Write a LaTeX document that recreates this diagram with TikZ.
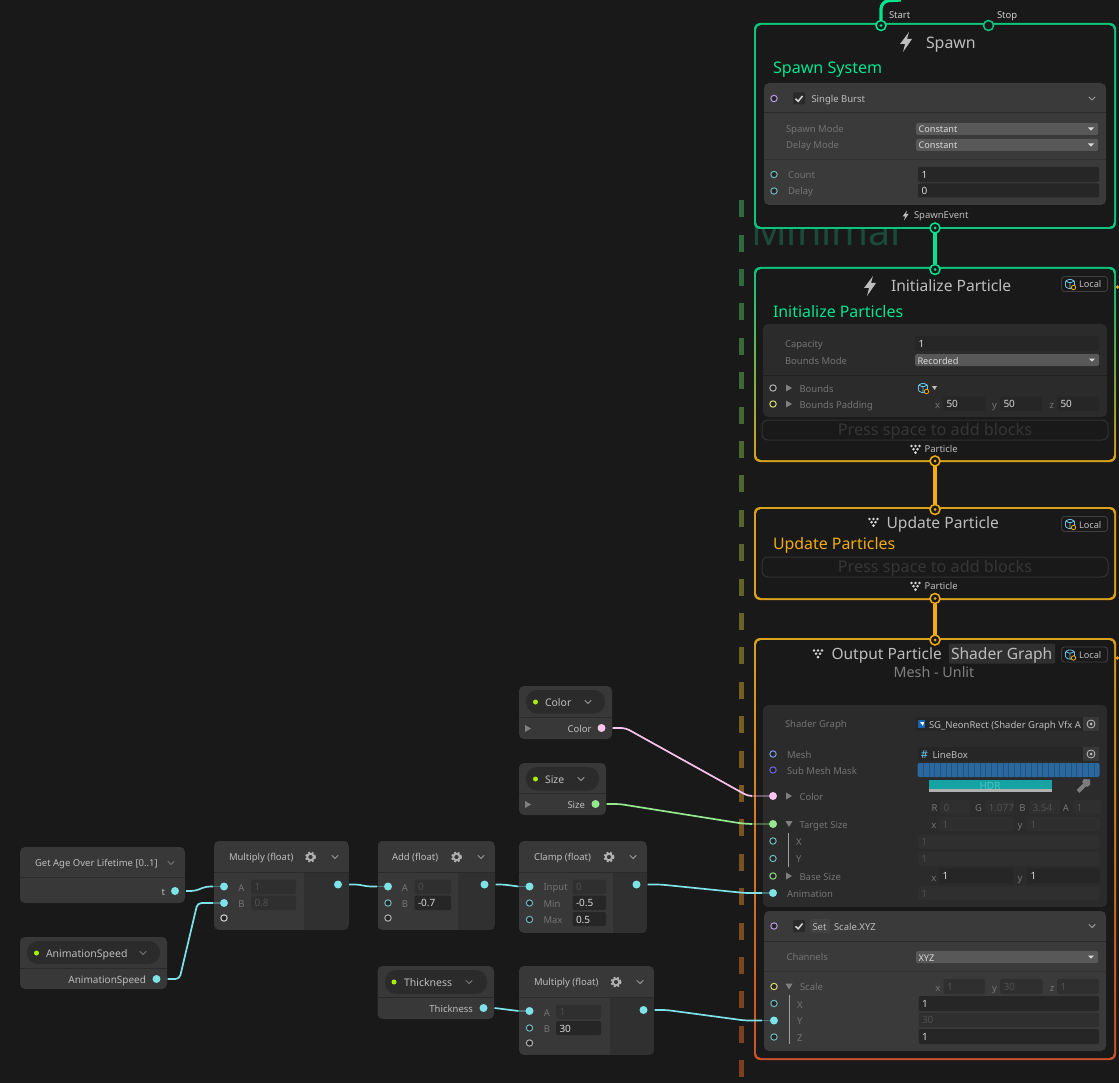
\documentclass[tikz,border=0pt]{standalone}
\usepackage{fontspec}
\setmainfont{Noto Sans}
\usetikzlibrary{calc}
\definecolor{bgc}{HTML}{191919}
\definecolor{nodec}{HTML}{383838}
\definecolor{colc}{HTML}{303030}
\definecolor{linec}{HTML}{2A2A2A}
\definecolor{blockA}{HTML}{3A3A3A}
\definecolor{blockB}{HTML}{2B2B2B}
\definecolor{dimtxt}{HTML}{747474}
\definecolor{meshtxt}{HTML}{808080}
\definecolor{txt}{HTML}{BDBDBD}
\definecolor{val}{HTML}{D8D8D8}
\definecolor{fieldon}{HTML}{262626}
\definecolor{fieldoff}{HTML}{2F2F2F}
\definecolor{offtxt}{HTML}{505050}
\definecolor{dd}{HTML}{585858}
\definecolor{pill}{HTML}{2B2B2B}
\definecolor{pressline}{HTML}{323232}
\definecolor{presstxt}{HTML}{363636}
\definecolor{badge}{HTML}{3E3E3E}
\definecolor{btn}{HTML}{383838}
\definecolor{tri}{HTML}{808080}
\definecolor{chevc}{HTML}{9A9A9A}
\definecolor{teal}{HTML}{7DE3E8}
\definecolor{tealdim}{HTML}{6FB8BC}
\definecolor{pinkw}{HTML}{F9C4EE}
\definecolor{greenw}{HTML}{96E88F}
\definecolor{flowg}{HTML}{0DC57E}
\definecolor{flowgb}{HTML}{00E58E}
\definecolor{flowy}{HTML}{D9A11C}
\definecolor{flowyb}{HTML}{F2AC0E}
\definecolor{flowr}{HTML}{C8522A}
\definecolor{dash1}{HTML}{2D6B3C}
\definecolor{dash2}{HTML}{756020}
\definecolor{dash3}{HTML}{7C3E1F}
\definecolor{purp}{HTML}{B79BE0}
\definecolor{bluep}{HTML}{7C9BE8}
\definecolor{indp}{HTML}{6F63E0}
\definecolor{yelp}{HTML}{D8DC78}
\definecolor{grayp}{HTML}{B0B0B0}
\definecolor{greenp}{HTML}{8FD68A}
\definecolor{lime}{HTML}{A8F000}
\definecolor{minimal}{HTML}{1B4A3A}
\definecolor{maskc}{HTML}{2A689F}
\definecolor{hdrc}{HTML}{16A3A3}
\definecolor{pick}{HTML}{7C7C7C}
\definecolor{cubec}{HTML}{6CC4EE}
\definecolor{sgblue}{HTML}{1464B4}
\newcounter{labc}
\tikzset{
  x=1pt,y=-1pt,
  every node/.style={inner sep=0pt,outer sep=0pt},
  lbl/.style={text height=0.8em,text depth=0em},
  portopen/.style={circle,minimum size=6.4pt,draw=#1,line width=1pt,fill=bgc!60!nodec},
  portfull/.style={circle,minimum size=8pt,fill=#1},
  flowport/.style={circle,minimum size=10pt,draw=#1,line width=1.5pt,fill=bgc},
  flowdot/.style={circle,minimum size=3pt,fill=#1},
  wire/.style={draw=#1,line width=1.7pt,rounded corners=4pt},
  wiredim/.style={draw=#1,line width=1.7pt,draw opacity=0.36},
  flowline/.style={draw=#1,line width=3.2pt,rounded corners=8pt},
  nodepanel/.style={rounded corners=5pt,fill=nodec},
  chev/.style={draw=#1,line width=0.9pt},
  rule/.style={draw=linec,line width=1pt}
}
% label: [anchor]{x}{y}{colour}{size}{text}
\newcommand{\lab}[6][west]{\stepcounter{labc}\node[lbl,anchor=#1,text=#4,font=\fontsize{#5}{#5}\selectfont] (lab\arabic{labc}) at ({#2},{#3}) {#6};}
\newcommand{\chevron}[3]{\draw[chev=#3] (#1-3.2,#2-1.6) -- (#1,#2+1.6) -- (#1+3.2,#2-1.6);}
\newcommand{\fon}[5]{\fill[fieldon,rounded corners=2pt] (#1,#2) rectangle (#3,#4);\lab{#1+3.5}{(#2+#4)/2}{val}{10}{#5}}
\newcommand{\foff}[5]{\fill[fieldoff,rounded corners=2pt] (#1,#2) rectangle (#3,#4);\lab{#1+3.5}{(#2+#4)/2}{offtxt}{10}{#5}}
\newcommand{\ddown}[5]{\fill[dd,rounded corners=1.5pt] (#1,#2) rectangle (#3,#4);\lab{#1+2.5}{(#2+#4)/2}{val}{9.2}{#5}\fill[val] (#3-10,{(#2+#4)/2-1.5}) -- (#3-4,{(#2+#4)/2-1.5}) -- (#3-7,{(#2+#4)/2+1.7}) -- cycle;}
\newcommand{\tright}[2]{\fill[tri] (#1-3,#2-3.5) -- (#1+3,#2) -- (#1-3,#2+3.5) -- cycle;}
\newcommand{\tdown}[2]{\fill[tri] (#1-3.5,#2-3) -- (#1+3.5,#2-3) -- (#1,#2+3) -- cycle;}
\newcommand{\gear}[2]{\draw[grayp,line width=1.8pt] (#1,#2) circle (3.2);\draw[grayp,line width=1.8pt,dash pattern=on 2pt off 1.8pt] (#1,#2) circle (4.7);}
\newcommand{\bolt}[3]{\begin{scope}[shift={(#1,#2)},scale=#3]\fill[txt] (3,-10) -- (-6,2) -- (-1,2) -- (-3,10) -- (6,-3) -- (1,-3) -- cycle;\end{scope}}
\newcommand{\partic}[3]{\begin{scope}[shift={(#1,#2)},scale=#3]\foreach \a/\b in {-4/-3,0/-3,4/-3,-2/0.2,2/0.2,0/3.6}{\fill[val] (\a,\b) circle (1.45);}\end{scope}}
\newcommand{\cube}[2]{\draw[cubec,line width=0.8pt,rounded corners=1pt] (#1-4.5,#2-3) -- (#1,#2-5) -- (#1+4.5,#2-3) -- (#1+4.5,#2+3) -- (#1,#2+5) -- (#1-4.5,#2+3) -- cycle (#1-4.5,#2-3) -- (#1,#2-1) -- (#1+4.5,#2-3) (#1,#2-1) -- (#1,#2+5);\draw[flowyb,fill=bgc,line width=0.8pt] (#1+3.5,#2+3.5) circle (2.2);}
\newcommand{\localbadge}[1]{\draw[draw=badge,line width=0.9pt,rounded corners=3pt] (1061.5,#1-7.5) rectangle (1107.5,#1+7.5);\cube{1070}{#1}\lab{1079}{#1}{txt}{9.2}{Local}}
\newcommand{\checkb}[2]{\fill[linec,rounded corners=1pt] (#1-6,#2-6) rectangle (#1+6,#2+6);\draw[val,line width=1.5pt] (#1-3.5,#2+0.3) -- (#1-0.8,#2+2.8) -- (#1+3.5,#2-2.5);}
\newcommand{\presspace}[1]{\draw[draw=pressline,line width=1pt,rounded corners=6pt] (762,#1-10) rectangle (1108,#1+10);\lab[center]{935}{#1+1.5}{presstxt}{16.2}{Press space to add blocks}}
\newcommand{\targetbtn}[2]{\fill[btn] (#1-8,#2-7) rectangle (#1+8,#2+7);\draw[txt,line width=0.8pt] (#1,#2) circle (4);\fill[txt] (#1,#2) circle (1.5);}
\begin{document}
\begin{tikzpicture}
\useasboundingbox (0,0) rectangle (1119,1083);
\fill[bgc] (0,0) rectangle (1119,1083);

% system outline and title
\foreach \k in {-2,...,23}{
  \pgfmathsetmacro\yy{269+34.4*\k}
  \pgfmathtruncatemacro\pa{max(0,min(100,100-(\yy-269)/4.31))}
  \pgfmathtruncatemacro\pb{max(0,min(100,100-(\yy-700)/3.6))}
  \ifdim\yy pt<700pt \colorlet{dcol}{dash1!\pa!dash2}\else\colorlet{dcol}{dash2!\pb!dash3}\fi
  \fill[dcol] (739,\yy) rectangle (743.5,\yy+17);
}
\lab[base west]{751}{245.5}{minimal}{39.5}{Minimal}

% ---------- flow contexts
\shade[top color=flowg,bottom color=flowg,rounded corners=6pt] (754,23) rectangle (1116,229);
\fill[bgc,rounded corners=5pt] (756,25) rectangle (1114,227);
\shade[top color=flowg,bottom color=flowy,rounded corners=6pt] (754,267) rectangle (1116,462);
\fill[bgc,rounded corners=5pt] (756,269) rectangle (1114,460);
\shade[top color=flowy,bottom color=flowy,rounded corners=6pt] (754,507) rectangle (1116,600);
\fill[bgc,rounded corners=5pt] (756,509) rectangle (1114,598);
\shade[top color=flowy,bottom color=flowr,rounded corners=6pt] (754,638) rectangle (1116,1060);
\fill[bgc,rounded corners=5pt] (756,640) rectangle (1114,1058);

% Spawn
\bolt{906}{42}{1}
\lab{926}{44.5}{txt}{15.9}{Spawn}
\lab{773}{70}{flowgb}{16.1}{Spawn System}
\lab{889}{14.5}{txt!75}{9.5}{Start}
\lab{997}{14.5}{txt!75}{9.5}{Stop}
\fill[blockA,rounded corners=5pt] (764,83) rectangle (1106,205);
\draw[rule] (764,113) -- (1106,113);
\draw[rule,draw=linec!60!blockA] (764,159.5) -- (1106,159.5);
\checkb{799}{98.5}
\lab{811.5}{98.5}{txt}{9.5}{Single Burst}
\chevron{1092}{98.5}{chevc}
\lab{786}{129}{dimtxt}{9.5}{Spawn Mode}
\lab{786}{144.5}{dimtxt}{9.5}{Delay Mode}
\ddown{916}{123}{1098}{135}{Constant}
\ddown{916}{139}{1098}{151}{Constant}
\lab{788}{174.5}{dimtxt}{9.5}{Count}
\lab{788}{191}{dimtxt}{9.5}{Delay}
\fon{918}{167}{1099}{182}{1}
\fon{918}{183.5}{1099}{197.5}{0}
\bolt{905.5}{215.5}{0.5}
\lab{914}{215}{txt}{9.5}{SpawnEvent}

% Initialize
\bolt{870}{286}{1}
\lab{891}{288}{txt}{15.6}{Initialize Particle}
\localbadge{284}
\lab{773}{314}{flowgb}{15.9}{Initialize Particles}
\fill[blockB,rounded corners=5pt] (763,324) rectangle (1107,417);
\draw[rule,draw=blockB!75!black] (763,375.5) -- (1107,375.5);
\lab{785}{343}{dimtxt}{9.5}{Capacity}
\lab{785}{360}{dimtxt}{9.5}{Bounds Mode}
\fon{915}{336}{1099}{351}{1}
\ddown{915}{354}{1099}{366}{Recorded}
\tright{789}{388}
\tright{789}{404}
\lab{799.5}{388}{dimtxt}{9.5}{Bounds}
\lab{799.5}{404}{dimtxt}{9.5}{Bounds Padding}
\cube{923}{388}
\fill[txt] (932,386) -- (937,386) -- (934.5,390) -- cycle;
\lab{935}{404.5}{dimtxt}{9.5}{x}
\fon{943}{396.5}{985}{411}{50}
\lab{992}{404.5}{dimtxt}{9.5}{y}
\fon{1000}{396.5}{1042}{411}{50}
\lab{1049.5}{404.5}{dimtxt}{9.5}{z}
\fon{1057}{396.5}{1099}{411}{50}
\presspace{430}
\partic{915.5}{449}{1}
\lab{924.5}{448}{txt}{9.5}{Particle}

% Update
\partic{873.5}{522}{1}
\lab{886.5}{524}{txt}{15.6}{Update Particle}
\localbadge{524}
\lab{773}{545}{flowyb}{15.9}{Update Particles}
\presspace{567}
\partic{915.5}{586}{1}
\lab{924.5}{585}{txt}{9.5}{Particle}

% Output
\partic{818}{653.5}{1}
\lab{831.5}{655.5}{txt}{15.5}{Output Particle}
\fill[fieldoff,rounded corners=1pt] (949,643.5) rectangle (1055,663.5);
\lab{951}{655.5}{txt}{15.6}{Shader Graph}
\localbadge{654.5}
\lab[center]{934}{673.5}{meshtxt}{14.3}{Mesh - Unlit}

\fill[blockB,rounded corners=5pt] (763,705) rectangle (1107,907);
\lab{785}{723.5}{dimtxt}{9.5}{Shader Graph}
\fill[fieldon,rounded corners=2pt] (916,717) rectangle (1099,731);
\fill[sgblue] (918,720) rectangle (925,728);
\fill[white] (920,722) -- (924,722) -- (923,726) -- cycle;
\lab{929}{724}{txt}{9.5}{SG\_NeonRect (Shader Graph Vfx A}
\targetbtn{1091}{724}
\lab{787}{754}{dimtxt}{9.5}{Mesh}
\fill[fieldon,rounded corners=2pt] (918,747) rectangle (1099,761);
\lab[center]{924.5}{754}{cubec}{11}{\#}
\lab{932.5}{754}{txt}{9.5}{LineBox}
\targetbtn{1091}{754}
\lab{787}{770}{dimtxt}{9.5}{Sub Mesh Mask}
\fill[maskc,rounded corners=2pt] (917.5,763) rectangle (1099.5,777);
\foreach \i in {1,...,31}{\draw[maskc!80!black,line width=0.7pt] ({917.5+\i*5.69},763) -- ({917.5+\i*5.69},777);}
\fill[hdrc] (929,779.5) rectangle (1052,789);
\fill[grayp] (929,789) rectangle (1052,791.5);
\lab[center]{990}{785.5}{teal!50!hdrc}{10}{HDR}
\draw[pick,line width=4pt] (1078,791.5) -- (1086,783.5);
\fill[pick] (1084,779) -- (1090,779.5) -- (1090,785) -- (1087,787) -- (1082,782) -- cycle;
\tright{789}{796}
\lab{799.5}{796}{dimtxt}{9.5}{Color}
\lab[center]{934.5}{807}{dimtxt}{9.5}{R}
\foff{940}{800}{970}{814}{0}
\lab[center]{978.5}{807}{dimtxt}{9.5}{G}
\foff{985}{800}{1014}{814}{1.077}
\lab[center]{1022.5}{807}{dimtxt}{9.5}{B}
\foff{1029}{800}{1060}{814}{3.54}
\lab[center]{1066}{807}{dimtxt}{9.5}{A}
\foff{1073}{800}{1101}{814}{1}
\tdown{789}{824}
\lab{799.5}{824}{dimtxt}{9.5}{Target Size}
\lab[center]{934}{824.5}{dimtxt}{9.5}{x}
\foff{939}{817}{1013}{831}{1}
\lab[center]{1020}{824.5}{dimtxt}{9.5}{y}
\foff{1027}{817}{1100}{831}{1}
\draw[dimtxt!70,line width=0.7pt] (788.5,833) -- (788.5,867);
\lab{796}{841.5}{dimtxt}{9.5}{X}
\foff{918}{834.5}{1099}{849}{1}
\lab{796}{858.5}{dimtxt}{9.5}{Y}
\foff{918}{851.5}{1099}{866}{1}
\tright{789}{876}
\lab{799.5}{876}{dimtxt}{9.5}{Base Size}
\lab[center]{934}{877}{dimtxt}{9.5}{x}
\fon{939}{868.5}{1013}{883}{1}
\lab[center]{1020}{877}{dimtxt}{9.5}{y}
\fon{1027}{868.5}{1100}{883}{1}
\lab{787}{893.5}{dimtxt}{9.5}{Animation}
\foff{918}{886}{1099}{900}{1}

\fill[blockA,rounded corners=5pt] (764,911) rectangle (1106,1051);
\draw[rule] (764,941.5) -- (1106,941.5);
\draw[rule,draw=linec!60!blockA] (764,971.5) -- (1106,971.5);
\checkb{799}{926}
\fill[blockA!96!white,rounded corners=1pt] (810,919) rectangle (830,933);
\lab{812.5}{926}{txt}{9.5}{Set}
\lab{834}{926}{txt}{9.5}{Scale.XYZ}
\chevron{1092}{926}{chevc}
\lab{786.5}{956.5}{dimtxt}{9.5}{Channels}
\ddown{916}{951}{1098}{963}{XYZ}
\tdown{789}{986.5}
\lab{800}{986.5}{dimtxt}{9.5}{Scale}
\lab[center]{938}{987}{dimtxt}{9.5}{x}
\foff{943.5}{979}{985}{994}{1}
\lab[center]{994.5}{987}{dimtxt}{9.5}{y}
\foff{1000}{979}{1042.5}{994}{30}
\lab[center]{1052}{987}{dimtxt}{9.5}{z}
\foff{1057}{979}{1099}{994}{1}
\draw[dimtxt!70,line width=0.7pt] (789.5,995) -- (789.5,1044);
\lab{797}{1004}{dimtxt}{9.5}{X}
\fon{918.5}{996}{1099}{1011}{1}
\lab{797}{1020.5}{dimtxt}{9.5}{Y}
\foff{918.5}{1012.5}{1099}{1027}{30}
\lab{797}{1037.5}{dimtxt}{9.5}{Z}
\fon{918.5}{1029}{1099}{1044}{1}

% right edge marks
\fill[flowyb] (1115.5,287) -- (1117.5,285) -- (1119,287) -- (1117.5,289) -- cycle;
\fill[flowyb] (1115.5,658) -- (1117.5,656) -- (1119,658) -- (1117.5,660) -- cycle;

% ---------- operator nodes
% Get Age
\fill[nodepanel] (20,847) rectangle (185,903);
\draw[rule] (20,877.5) -- (185,877.5);
\lab{35}{862.5}{txt}{9.5}{Get Age Over Lifetime [0..1]}
\chevron{171}{863}{dimtxt}
\lab[east]{165}{891}{txt}{9.5}{t}
% AnimationSpeed
\fill[nodepanel] (20,937) rectangle (167,989);
\draw[rule] (20,968) -- (167,968);
\fill[pill,rounded corners=11pt] (27,941) rectangle (160,964);
\fill[lime] (36.5,953) circle (2.5);
\lab{46}{953}{txt}{10.5}{AnimationSpeed}
\chevron{143}{953}{dimtxt}
\lab[east]{146}{979}{txt}{10}{AnimationSpeed}
% Multiply 1
\begin{scope}
\clip[rounded corners=5pt] (214,841) rectangle (349,930);
\fill[nodec] (214,841) rectangle (349,930);
\fill[colc] (304,872) rectangle (349,930);
\end{scope}
\draw[rule] (214,872.5) -- (349,872.5);
\lab{229}{856.5}{txt}{9.5}{Multiply (float)}
\gear{310.5}{857}
\chevron{335}{857}{chevc}
\lab[center]{241.5}{887}{dimtxt}{9.5}{A}
\foff{251}{879.5}{296}{894}{1}
\lab[center]{241.5}{903}{dimtxt}{9.5}{B}
\foff{251}{895.5}{296}{910}{0.8}
% Add
\begin{scope}
\clip[rounded corners=5pt] (377.5,841) rectangle (495,930);
\fill[nodec] (377.5,841) rectangle (495,930);
\fill[colc] (458,872) rectangle (495,930);
\end{scope}
\draw[rule] (377.5,872.5) -- (495,872.5);
\lab{392}{856.5}{txt}{9.5}{Add (float)}
\gear{456.5}{857}
\chevron{481}{857}{chevc}
\lab[center]{405}{887}{dimtxt}{9.5}{A}
\foff{414.5}{879.5}{451}{894}{0}
\lab[center]{405}{903}{dimtxt}{9.5}{B}
\fon{414.5}{895.5}{451}{910}{-0.7}
% Clamp
\begin{scope}
\clip[rounded corners=5pt] (519,841) rectangle (647,933);
\fill[nodec] (519,841) rectangle (647,933);
\fill[colc] (613,872) rectangle (647,933);
\end{scope}
\draw[rule] (519,872.5) -- (647,872.5);
\lab{534}{856.5}{txt}{9.5}{Clamp (float)}
\gear{609}{857}
\chevron{633}{857}{chevc}
\lab{543.5}{886.5}{dimtxt}{9.5}{Input}
\foff{572.5}{879.5}{606}{894}{0}
\lab{543.5}{903}{dimtxt}{9.5}{Min}
\fon{572.5}{895.5}{606}{910}{-0.5}
\lab{543.5}{919.5}{dimtxt}{9.5}{Max}
\fon{572.5}{912}{606}{926}{0.5}
% Thickness
\fill[nodepanel] (377.5,966) rectangle (494,1019);
\draw[rule] (377.5,997) -- (494,997);
\fill[pill,rounded corners=11pt] (385,970) rectangle (487,994);
\fill[lime] (394,982) circle (2.5);
\lab{404}{982}{txt}{10.5}{Thickness}
\chevron{469}{982}{dimtxt}
\lab[east]{473}{1008}{txt}{9.5}{Thickness}
% Multiply 2
\begin{scope}
\clip[rounded corners=5pt] (519,966) rectangle (654,1055);
\fill[nodec] (519,966) rectangle (654,1055);
\fill[colc] (610,997) rectangle (654,1055);
\end{scope}
\draw[rule] (519,997) -- (654,997);
\lab{534}{981.5}{txt}{9.5}{Multiply (float)}
\gear{616}{982}
\chevron{640}{982}{chevc}
\lab[center]{547}{1012}{dimtxt}{9.5}{A}
\foff{556}{1004.5}{601}{1019}{1}
\lab[center]{547}{1028.5}{dimtxt}{9.5}{B}
\fon{556}{1021}{601}{1035}{30}
% Color
\fill[nodepanel] (519,686) rectangle (612,739);
\draw[rule] (519,717) -- (612,717);
\fill[pill,rounded corners=11pt] (526,690) rectangle (605,713.5);
\fill[lime] (535.5,702) circle (2.5);
\lab{545}{702}{txt}{10.5}{Color}
\chevron{588}{702}{chevc}
\tright{528}{728.5}
\lab[east]{591.5}{728}{txt}{9.5}{Color}
% Size
\fill[nodepanel] (519,763) rectangle (606,815);
\draw[rule] (519,793.5) -- (606,793.5);
\fill[pill,rounded corners=11pt] (526,767) rectangle (599,790.5);
\fill[lime] (535.5,779) circle (2.5);
\lab{545}{779}{txt}{10.5}{Size}
\chevron{581}{779}{chevc}
\tright{528}{804.5}
\lab[east]{585}{804}{txt}{9.5}{Size}

% ---------- connectors (under the ports)
\coordinate (fTop) at (901,0);
\coordinate (fBend) at (881,1);
\node[flowport=flowgb] (fStart) at (881,25.5) {};
\node[flowport=flowgb] (fSpawnOut) at (935,228) {};
\node[flowport=flowgb] (fInitIn) at (935,269.5) {};
\node[flowport=flowyb] (fInitOut) at (935,461) {};
\node[flowport=flowyb] (fUpdIn) at (935,509.5) {};
\node[flowport=flowyb] (fUpdOut) at (935,598.5) {};
\node[flowport=flowyb] (fOutIn) at (935,640) {};
\node[flowport=flowg] (fStop) at (988.5,25.5) {};
\foreach \n/\c in {fStart/flowgb,fSpawnOut/flowgb,fInitIn/flowgb,fInitOut/flowyb,fUpdIn/flowyb,fUpdOut/flowyb,fOutIn/flowyb}
  {\node[flowdot=\c] (\n dot) at (\n) {};}
\draw[flowline=flowgb] (fStart.north) -- (fBend) -- (fTop);
\draw[flowline=flowgb] (fSpawnOut.south) -- (fInitIn.north);
\draw[flowline=flowyb] (fInitOut.south) -- (fUpdIn.north);
\draw[flowline=flowyb] (fUpdOut.south) -- (fOutIn.north);

% ---------- ports
\foreach \n/\x/\y/\c in {
  sbBurst/774/98.5/purp, sbCount/774/174.5/tealdim, sbDelay/774/191/tealdim,
  iBounds/773/388/grayp, iPad/773/404/yelp,
  oMesh/773/754/bluep, oMask/773/770/indp, oX/773/841/tealdim, oY/773/858.5/tealdim, oBase/773/876/greenp,
  sBlock/774/926/purp, sScale/774/986.5/yelp, sX/774/1003.5/tealdim, sZ/774/1037/tealdim,
  mBp/224/918/val, aB/388/903/tealdim, aC/388/918/grayp,
  cMin/529.5/903/tealdim, cMax/529.5/919.5/tealdim,
  nB/529.5/1028/tealdim, nC/529.5/1043/grayp}
  {\node[portopen=\c] (\n) at (\x,\y) {};}
\foreach \n/\x/\y/\c in {
  pT/175/891/teal, pAS/156.5/979/teal, mA/224/886.5/teal, mB/224/903/teal, mOut/338/884.5/teal,
  aA/388/886.5/teal, aOut/484.5/884.5/teal, cIn/529.5/886.5/teal, cOut/636.5/884.5/teal,
  pTh/483.5/1008/teal, nA/529.5/1011/teal, nOut/643.5/1010/teal,
  pC/601.5/728/pinkw, pS/595.5/804/greenw,
  oColor/773/796/pinkw, oTarget/773/824/greenw, oAnim/773/893/teal, sY/774/1020.5/teal}
  {\node[portfull=\c] (\n) at (\x,\y) {};}

\draw[wire=teal] ([xshift=11pt]pT.center) -- ++(9,0) -- ++(11,-4.5) -- ([xshift=-11pt]mA.center);
\draw[wiredim=teal] ([xshift=-11pt]mA.center) -- (mA);
\draw[wire=teal] ([xshift=11pt]pAS.center) -- ++(12,0) -- ++(18,-76) -- ([xshift=-11pt]mB.center);
\draw[wiredim=teal] ([xshift=-11pt]mB.center) -- (mB);
\draw[wire=teal] ([xshift=11pt]mOut.center) -- ++(10,0) -- ++(8,2) -- ([xshift=-11pt]aA.center);
\draw[wiredim=teal] ([xshift=-11pt]aA.center) -- (aA);
\draw[wire=teal] ([xshift=11pt]aOut.center) -- ++(8,0) -- ([xshift=-11pt]cIn.center);
\draw[wiredim=teal] ([xshift=-11pt]cIn.center) -- (cIn);
\coordinate (jAnim) at (762,893);
\draw[wire=teal] ([xshift=11pt]cOut.center) -- ++(13,0) -- (745,893) -- (jAnim);
\draw[wiredim=teal] (jAnim) -- (oAnim);
\draw[wire=teal] ([xshift=11pt]pTh.center) -- ([xshift=-11pt]nA.center);
\draw[wiredim=teal] ([xshift=-11pt]nA.center) -- (nA);
\coordinate (jY) at (762,1020.5);
\draw[wire=teal] ([xshift=11pt]nOut.center) -- ++(12,0) -- (745,1020.5) -- (jY);
\draw[wiredim=teal] (jY) -- (sY);
\coordinate (jC) at (752,796);
\draw[wire=pinkw] ([xshift=11pt]pC.center) -- ++(13,0) -- (748,796) -- (jC);
\draw[wiredim=pinkw] (jC) -- (oColor);
\coordinate (jS) at (752,824);
\draw[wire=greenw] ([xshift=11pt]pS.center) -- ++(13,0) -- (742,823.5) -- (jS);
\draw[wiredim=greenw] (jS) -- (oTarget);
\end{tikzpicture}
\end{document}
